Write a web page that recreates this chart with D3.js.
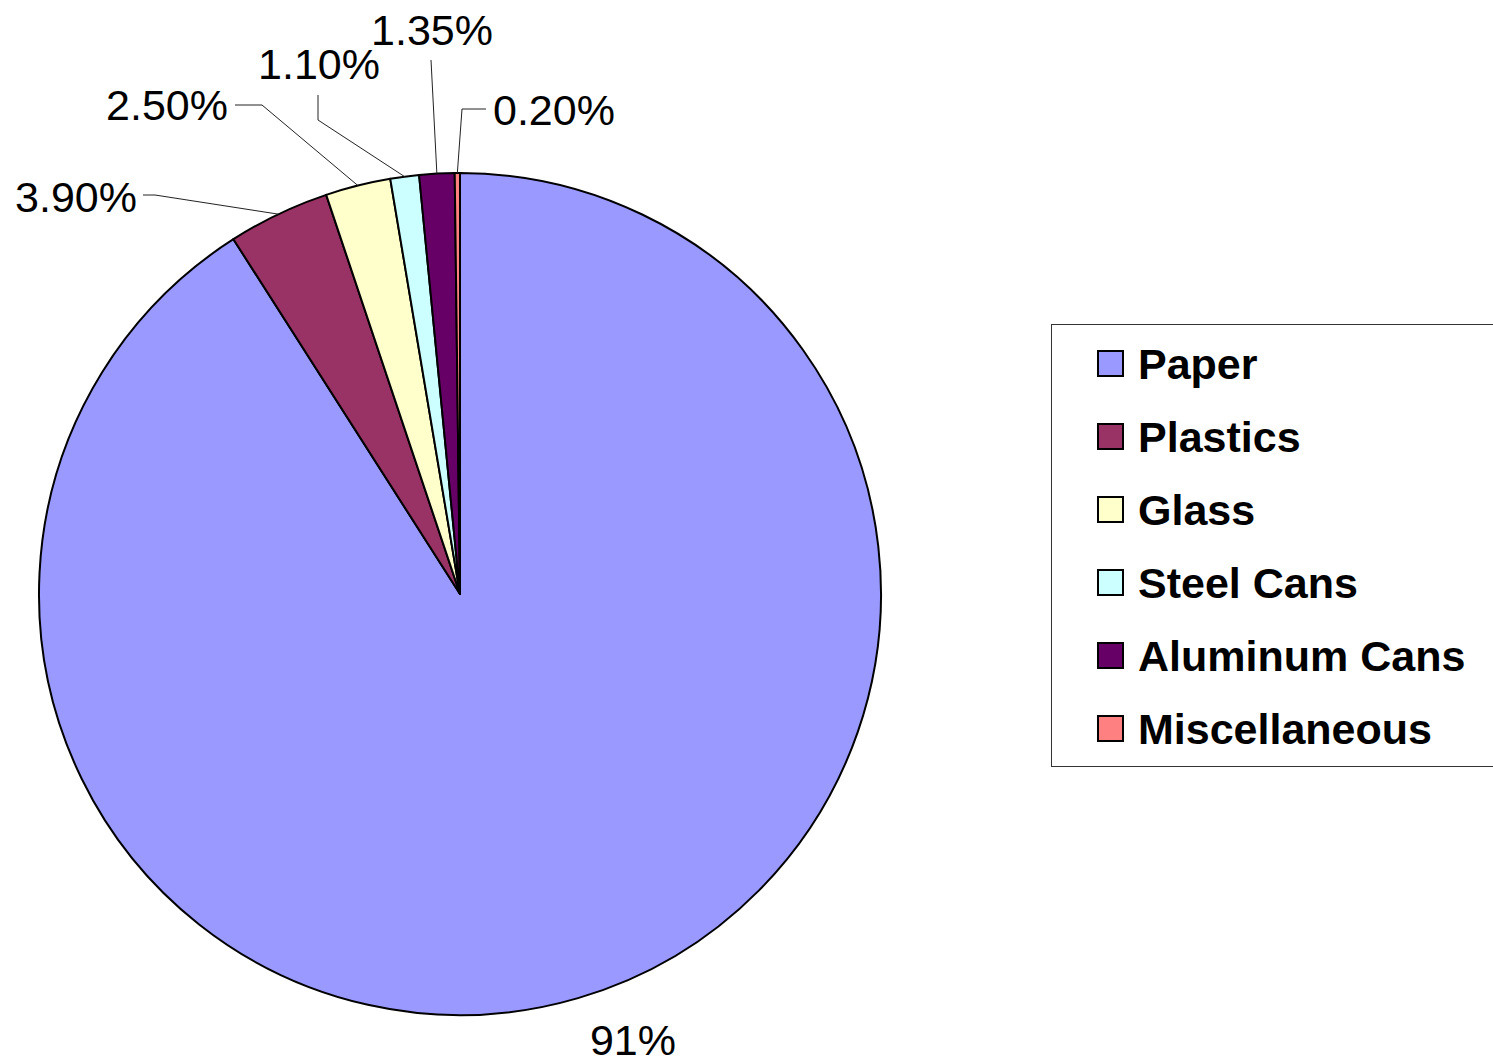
<!DOCTYPE html>
<html lang="en">
  <head>
    <meta charset="utf-8" />
    <title>Recycling Composition</title>
    <style>
      body { margin: 0; background: #fff; }
      svg { display: block; font-family: "Liberation Sans", Arial, sans-serif; }
    </style>
  </head>
  <body>
    <svg id="pie-chart" width="1493" height="1062"></svg>
    <script src="https://d3js.org/d3.v7.min.js"></script>
    <script>
      // data
      const categories = ["Paper", "Plastics", "Glass", "Steel Cans", "Aluminum Cans", "Miscellaneous"];
      const values = [91, 3.9, 2.5, 1.1, 1.35, 0.2];
      const valueLabels = ["91%", "3.90%", "2.50%", "1.10%", "1.35%", "0.20%"];
      const colors = ["#9999FF", "#993366", "#FFFFCC", "#CCFFFF", "#660066", "#FF8080"];

      // label placement, relative to the pie centre (leader elbow, leader end, text anchor)
      const labelLayout = [
        { elbow: null, end: null, text: [173, 461], anchor: "middle" },
        { elbow: [-305, -399], end: [-317, -399], text: [-323, -382], anchor: "end" },
        { elbow: [-198, -489], end: [-225, -489], text: [-232, -474], anchor: "end" },
        { elbow: [-142, -474], end: [-142, -499], text: [-141, -515], anchor: "middle" },
        { elbow: null, end: [-29, -534], text: [-28, -549], anchor: "middle" },
        { elbow: [2, -485], end: [26, -485], text: [33, -469], anchor: "start" },
      ];

      const svg = d3.select("#pie-chart");
      const cx = 460, cy = 594, radius = 421;

      const data = categories.map((c, i) => ({ name: c, value: values[i], label: valueLabels[i], color: colors[i], layout: labelLayout[i] }));

      const pie = d3.pie().sort(null).value((d) => d.value);
      const arc = d3.arc().innerRadius(0).outerRadius(radius);
      const edgeArc = d3.arc().innerRadius(radius).outerRadius(radius);

      const chart = svg.append("g").attr("transform", "translate(" + cx + "," + cy + ")");
      const arcs = pie(data);

      chart
        .selectAll("path.slice")
        .data(arcs)
        .join("path")
        .attr("class", "slice")
        .attr("d", arc)
        .attr("fill", (d) => d.data.color)
        .attr("stroke", "#000")
        .attr("stroke-width", 2)
        .attr("stroke-linejoin", "round");

      // leader lines
      const line = d3.line();
      chart
        .selectAll("path.leader")
        .data(arcs.filter((d) => d.data.layout.end))
        .join("path")
        .attr("class", "leader")
        .attr("fill", "none")
        .attr("stroke", "#222")
        .attr("stroke-width", 1)
        .attr("d", function (d) {
          const p = edgeArc.centroid(d);
          const lay = d.data.layout;
          const pts = [p];
          if (lay.elbow) pts.push(lay.elbow);
          pts.push(lay.end);
          return line(pts);
        });

      chart
        .selectAll("text.value")
        .data(arcs)
        .join("text")
        .attr("class", "value")
        .attr("x", (d) => d.data.layout.text[0])
        .attr("y", (d) => d.data.layout.text[1])
        .attr("text-anchor", (d) => d.data.layout.anchor)
        .style("font-size", "43px")
        .style("fill", "#000")
        .text((d) => d.data.label);

      // legend
      const legend = svg.append("g");
      legend
        .append("rect")
        .attr("x", 1051.5)
        .attr("y", 324.5)
        .attr("width", 470)
        .attr("height", 442)
        .attr("fill", "#fff")
        .attr("stroke", "#333")
        .attr("stroke-width", 1);

      const rowY = d3.scalePoint().domain(categories).range([364, 729]);

      const rows = legend
        .selectAll("g.row")
        .data(data)
        .join("g")
        .attr("class", "row")
        .attr("transform", (d) => "translate(0," + rowY(d.name) + ")");

      rows
        .append("rect")
        .attr("x", 1098)
        .attr("y", -13)
        .attr("width", 25)
        .attr("height", 25)
        .attr("fill", (d) => d.color)
        .attr("stroke", "#000")
        .attr("stroke-width", 2);

      rows
        .append("text")
        .attr("x", 1138)
        .attr("y", 15)
        .style("font-size", "43px")
        .style("font-weight", "bold")
        .style("fill", "#000")
        .text((d) => d.name);
    </script>
  </body>
</html>
